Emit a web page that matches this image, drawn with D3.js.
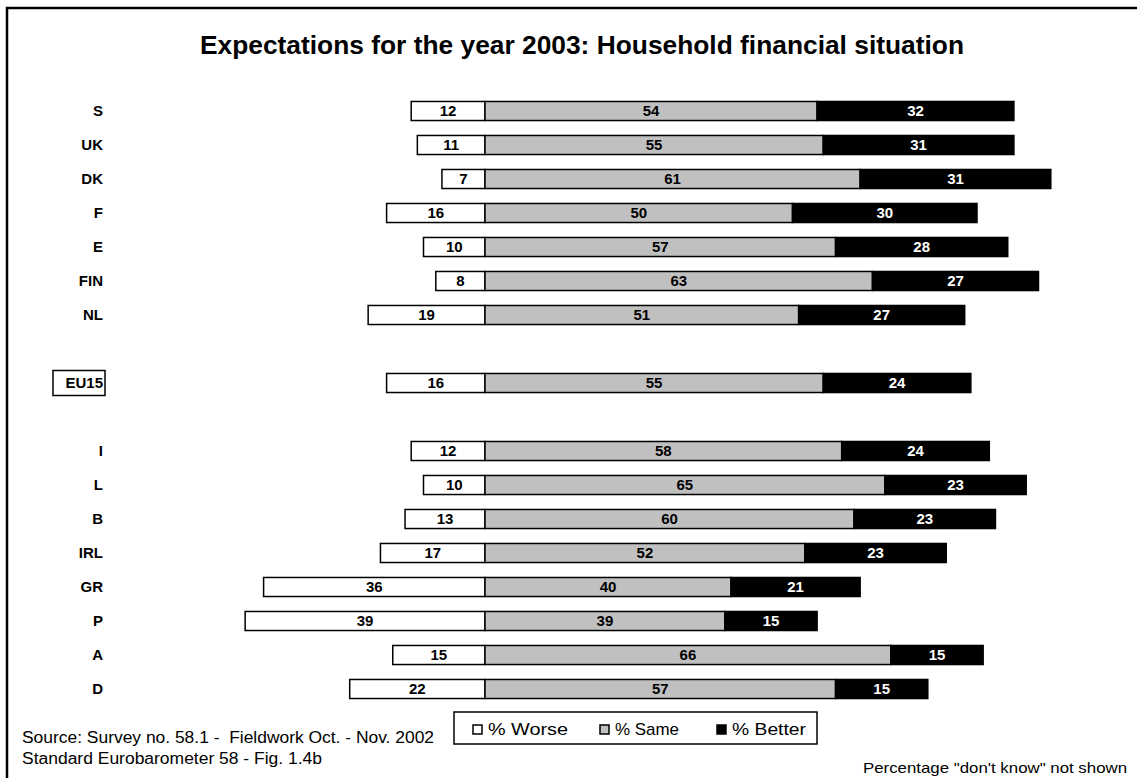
<!DOCTYPE html>
<html>
<head>
<meta charset="utf-8">
<script src="https://cdn.jsdelivr.net/npm/d3@7"></script>
<style>
  html, body { margin: 0; padding: 0; background: #fff; }
  svg { display: block; font-family: Arial, "Liberation Sans", sans-serif; }
</style>
</head>
<body>
<svg id="chart" width="1137" height="778"></svg>
<script>
// Eurobarometer 58: expectations for household finances in 2003
const countries = ["S", "UK", "DK", "F", "E", "FIN", "NL", "EU15", "I", "L", "B", "IRL", "GR", "P", "A", "D"];
const worse  = [12, 11, 7, 16, 10, 8, 19, 16, 12, 10, 13, 17, 36, 39, 15, 22];
const same   = [54, 55, 61, 50, 57, 63, 51, 55, 58, 65, 60, 52, 40, 39, 66, 57];
const better = [32, 31, 31, 30, 28, 27, 27, 24, 24, 23, 23, 23, 21, 15, 15, 15];
const seriesNames = ["% Worse", "% Same", "% Better"];
const seriesFill = ["#ffffff", "#c0c0c0", "#000000"];
const textFill = ["#000000", "#000000", "#ffffff"];

const rows = countries.map((c, i) => ({ c, w: worse[i], s: same[i], b: better[i] }));

// Row order with empty slots around the EU15 average
const slots = [];
countries.forEach(c => {
  if (c === "EU15") { slots.push("_gapA", c, "_gapB"); }
  else slots.push(c);
});

const svg = d3.select("#chart");
const W = 1137, H = 778;

// Frame (top and left edges visible)
svg.append("path")
  .attr("d", `M7,${H} L7,8 L${W},8`)
  .attr("fill", "none").attr("stroke", "#000").attr("stroke-width", 2.5);

svg.append("text")
  .attr("x", 200).attr("y", 54)
  .attr("font-size", 26).attr("font-weight", "bold")
  .attr("textLength", 764).attr("lengthAdjust", "spacingAndGlyphs")
  .text("Expectations for the year 2003: Household financial situation");

const y = d3.scaleBand()
  .domain(slots)
  .range([94, 94 + slots.length * 34])
  .paddingInner(0.44)
  .paddingOuter(0.22);

const x = d3.scaleLinear().domain([0, 1]).range([485, 485 + 6.15]);

const g = svg.append("g");

const segs = [];
rows.forEach(r => {
  segs.push({ c: r.c, k: 0, v: r.w, x0: -r.w, x1: 0 });
  segs.push({ c: r.c, k: 1, v: r.s, x0: 0, x1: r.s });
  segs.push({ c: r.c, k: 2, v: r.b, x0: r.s, x1: r.s + r.b });
});

g.selectAll("rect.seg").data(segs).join("rect")
  .attr("class", "seg")
  .attr("x", d => x(d.x0))
  .attr("y", d => y(d.c))
  .attr("width", d => x(d.x1) - x(d.x0))
  .attr("height", y.bandwidth())
  .attr("fill", d => seriesFill[d.k])
  .attr("stroke", "#000").attr("stroke-width", 1.5);

g.selectAll("text.val").data(segs).join("text")
  .attr("class", "val")
  .attr("x", d => (x(d.x0) + x(d.x1)) / 2)
  .attr("y", d => y(d.c) + y.bandwidth() / 2)
  .attr("dy", "0.36em")
  .attr("text-anchor", "middle")
  .attr("font-size", 15).attr("font-weight", "bold")
  .attr("fill", d => textFill[d.k])
  .text(d => d.v);

// Category labels
g.selectAll("text.cat").data(rows).join("text")
  .attr("class", "cat")
  .attr("x", 103)
  .attr("y", d => y(d.c) + y.bandwidth() / 2)
  .attr("dy", "0.36em")
  .attr("text-anchor", "end")
  .attr("font-size", 15).attr("font-weight", "bold")
  .text(d => d.c);

// Box around the EU15 label
svg.append("rect")
  .attr("x", 53).attr("y", y("EU15") + y.bandwidth() / 2 - 12.5)
  .attr("width", 52).attr("height", 25)
  .attr("fill", "none").attr("stroke", "#000").attr("stroke-width", 1.5);

// Legend
const lg = svg.append("g");
lg.append("rect").attr("x", 454).attr("y", 712).attr("width", 363).attr("height", 32)
  .attr("fill", "#fff").attr("stroke", "#000").attr("stroke-width", 1.5);
const legX = [473, 600, 717];
const legW = [80, 64, 74];
seriesNames.forEach((n, i) => {
  lg.append("rect").attr("x", legX[i]).attr("y", 725).attr("width", 9).attr("height", 9)
    .attr("fill", seriesFill[i]).attr("stroke", "#000").attr("stroke-width", 1.5);
  lg.append("text").attr("x", legX[i] + 15).attr("y", 735)
    .attr("font-size", 17)
    .attr("textLength", legW[i]).attr("lengthAdjust", "spacingAndGlyphs")
    .text(n);
});

svg.append("text").attr("x", 22).attr("y", 743).attr("font-size", 16)
  .attr("textLength", 412).attr("lengthAdjust", "spacingAndGlyphs")
  .style("white-space", "pre")
  .text("Source: Survey no. 58.1 -  Fieldwork Oct. - Nov. 2002");
svg.append("text").attr("x", 22).attr("y", 764).attr("font-size", 16)
  .attr("textLength", 300).attr("lengthAdjust", "spacingAndGlyphs")
  .text("Standard Eurobarometer 58 - Fig. 1.4b");
svg.append("text").attr("x", 863).attr("y", 773).attr("font-size", 15)
  .attr("textLength", 264).attr("lengthAdjust", "spacingAndGlyphs")
  .text("Percentage \"don't know\" not shown");
</script>
</body>
</html>
